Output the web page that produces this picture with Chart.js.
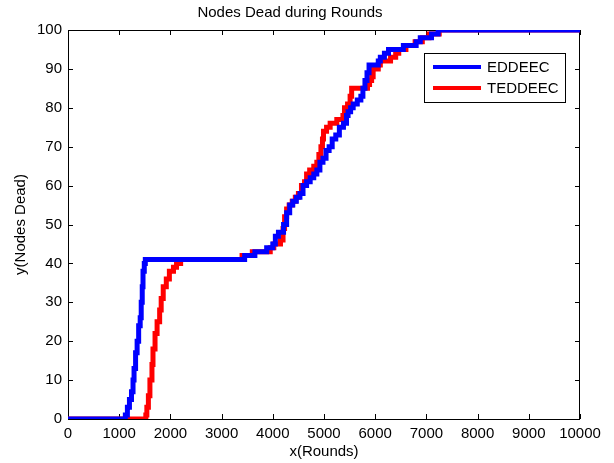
<!DOCTYPE html>
<html>
<head>
<meta charset="utf-8">
<script src="https://cdn.jsdelivr.net/npm/chart.js@4/dist/chart.umd.min.js"></script>
<style>
  html, body { margin: 0; padding: 0; background: #fff; }
</style>
</head>
<body>
<canvas id="deadChart" width="614" height="463"></canvas>
<script>
// rounds / dead nodes
var roundsEddeec = [0, 1120, 1160, 1200, 1240, 1270, 1290, 1320, 1350, 1380, 1410, 1430, 1450, 1465, 1490, 1510,
  3450, 3650, 3880, 4000, 4050, 4110, 4210, 4270, 4330, 4390, 4460, 4530, 4590, 4660, 4730, 4800, 4860, 4920,
  4980, 5040, 5100, 5160, 5230, 5300, 5380, 5440, 5470, 5520, 5570, 5650, 5720, 5760, 5800, 5840, 5880, 6060,
  6100, 6180, 6260, 6550, 6800, 6880, 7100, 7230, 10000];
var deadEddeec = [0, 1, 3, 5, 7, 10, 13, 17, 20, 24, 26, 30, 34, 38, 40, 41,
  42, 43, 44, 45, 47, 48, 50, 53, 55, 56, 57, 58, 60, 61, 62, 63, 64, 66,
  67, 69, 70, 72, 73, 75, 76, 78, 79, 80, 81, 82, 83, 85, 87, 89, 91, 92,
  93, 94, 95, 96, 97, 98, 99, 100, 100];

var roundsTeddeec = [0, 1520, 1540, 1570, 1600, 1640, 1660, 1700, 1740, 1790, 1820, 1860, 1920, 1980, 2060, 2120, 2200,
  3400, 3600, 3950, 4020, 4150, 4200, 4230, 4270, 4320, 4380, 4440, 4500, 4560, 4620, 4660, 4720, 4800, 4860,
  4900, 4940, 4970, 4990, 5050, 5120, 5250, 5370, 5400, 5460, 5510, 5540, 5850, 5890, 5930, 5960, 6060, 6100,
  6300, 6400, 6460, 6600, 6780, 6920, 7050, 7250, 10000];
var deadTeddeec = [0, 1, 3, 6, 10, 14, 18, 22, 25, 28, 31, 34, 36, 38, 39, 40, 41,
  42, 43, 44, 45, 46, 49, 52, 54, 55, 56, 57, 58, 60, 61, 63, 64, 65, 66,
  68, 70, 72, 74, 75, 76, 77, 78, 80, 81, 83, 85, 86, 87, 88, 90, 91, 92,
  93, 94, 95, 96, 97, 98, 99, 100, 100];

var seriesNames = ['EDDEEC', 'TEDDEEC'];
var seriesColors = ['#0000ff', '#ff0000'];

function toPoints(xs, ys) {
  return xs.map(function(x, i) { return { x: x, y: ys[i] }; });
}

var fontFamily = '"Liberation Sans", Arial, Helvetica, sans-serif';

// matlab style box, inward ticks and legend inside the axes
var matlabFrame = {
  id: 'matlabFrame',
  beforeDatasetsDraw: function(chart) {
    var ctx = chart.ctx, a = chart.chartArea;
    var xs = chart.scales.x, ys = chart.scales.y;
    ctx.save();
    ctx.strokeStyle = '#000';
    ctx.lineWidth = 1;
    ctx.strokeRect(Math.round(a.left) + 0.5, Math.round(a.top) + 0.5,
      Math.round(a.right - a.left) - 1, Math.round(a.bottom - a.top));
    ctx.beginPath();
    xs.ticks.forEach(function(t) {
      var px = Math.round(xs.getPixelForValue(t.value)) + 0.5;
      ctx.moveTo(px, a.bottom); ctx.lineTo(px, a.bottom - 5);
      ctx.moveTo(px, a.top); ctx.lineTo(px, a.top + 5);
    });
    ys.ticks.forEach(function(t) {
      var py = Math.round(ys.getPixelForValue(t.value)) + 0.5;
      ctx.moveTo(a.left, py); ctx.lineTo(a.left + 5, py);
      ctx.moveTo(a.right, py); ctx.lineTo(a.right - 5, py);
    });
    ctx.stroke();
    ctx.restore();
  },
  afterDatasetsDraw: function(chart) {
    var ctx = chart.ctx;
    ctx.save();
    ctx.fillStyle = '#fff';
    ctx.fillRect(424, 53, 141, 49);
    ctx.strokeStyle = '#000';
    ctx.lineWidth = 1;
    ctx.strokeRect(424.5, 53.5, 141, 49);
    ctx.font = '15px ' + fontFamily;
    ctx.textBaseline = 'middle';
    ctx.textAlign = 'left';
    chart.data.datasets.forEach(function(ds, i) {
      var y = 67 + i * 21;
      ctx.strokeStyle = ds.borderColor;
      ctx.lineWidth = 4;
      ctx.beginPath();
      ctx.moveTo(433, y); ctx.lineTo(481, y);
      ctx.stroke();
      ctx.fillStyle = '#000';
      ctx.fillText(ds.label, 487, y + 1);
    });
    ctx.restore();
  }
};

new Chart(document.getElementById('deadChart').getContext('2d'), {
  type: 'line',
  data: {
    datasets: [{
      label: seriesNames[0],
      data: toPoints(roundsEddeec, deadEddeec),
      borderColor: seriesColors[0],
      borderWidth: 5,
      stepped: 'before',
      pointRadius: 0,
      fill: false
    }, {
      label: seriesNames[1],
      data: toPoints(roundsTeddeec, deadTeddeec),
      borderColor: seriesColors[1],
      borderWidth: 5,
      stepped: 'before',
      pointRadius: 0,
      fill: false
    }]
  },
  options: {
    responsive: false,
    devicePixelRatio: 1,
    animation: false,
    layout: { padding: { left: 0, right: 34, top: 0, bottom: 0 } },
    plugins: {
      legend: { display: false },
      tooltip: { enabled: false },
      title: {
        display: true,
        text: 'Nodes Dead during Rounds',
        color: '#000',
        font: { family: fontFamily, size: 15, weight: 'normal' },
        padding: { top: 4, bottom: 8 }
      }
    },
    scales: {
      x: {
        type: 'linear',
        min: 0,
        max: 10000,
        grid: { display: false, drawTicks: false },
        border: { display: false },
        ticks: { stepSize: 1000, color: '#000', padding: 6, maxRotation: 0,
          font: { family: fontFamily, size: 15 },
          callback: function(v) { return String(v); } },
        title: { display: true, text: 'x(Rounds)', color: '#000',
          font: { family: fontFamily, size: 15 }, padding: { top: 0, bottom: 2 } },
        afterFit: function(scale) { scale.height = 44; }
      },
      y: {
        min: 0,
        max: 100,
        grid: { display: false, drawTicks: false },
        border: { display: false },
        ticks: { stepSize: 10, color: '#000', padding: 6,
          font: { family: fontFamily, size: 15 } },
        title: { display: true, text: 'y(Nodes Dead)', color: '#000',
          font: { family: fontFamily, size: 15 }, padding: { top: 12, bottom: 0 } },
        afterFit: function(scale) { scale.width = 68; }
      }
    }
  },
  plugins: [matlabFrame]
});
</script>
</body>
</html>
